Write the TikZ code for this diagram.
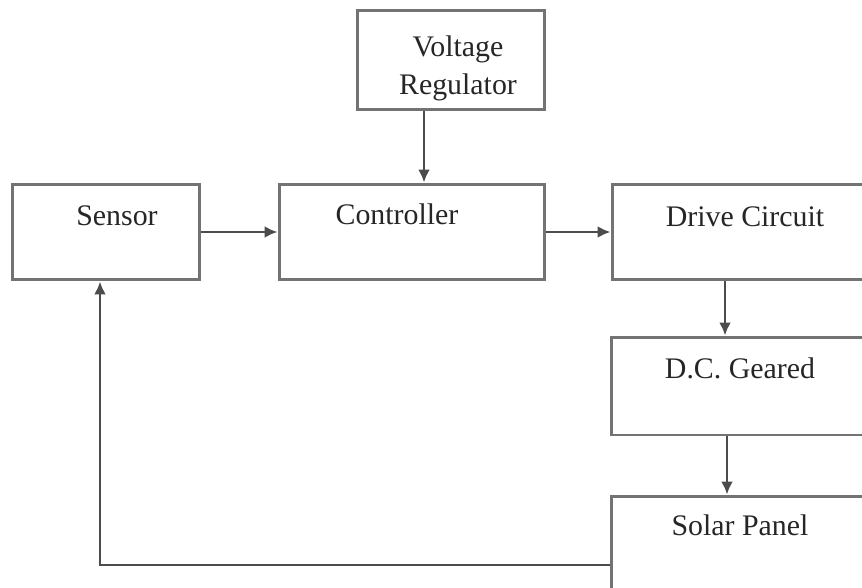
\documentclass[tikz,border=0pt]{standalone}
\usepackage{fontspec}
\setmainfont{Liberation Serif}
\usetikzlibrary{arrows.meta}

\begin{document}
\begin{tikzpicture}[
    x=0.02cm, y=-0.02cm,
    block/.style={
        draw=black!55,
        line width=1.7pt,
        rectangle,
        inner sep=0pt
    },
    txt/.style={
        anchor=center,
        text=black!85,
        font=\fontsize{17}{21.5}\selectfont,
        align=center
    },
    link/.style={
        draw=black!70,
        line width=1.5pt,
        -{Latex[length=0.26cm,width=0.24cm]}
    }
]

\useasboundingbox (0,0) rectangle (862,588);
\clip (0,0) rectangle (862,588);

\node[block, minimum width=3.76cm, minimum height=2cm,
      label={[txt, yshift=-1.19cm, xshift=0.14cm]north:Voltage\\Regulator}]
      (volt) at (451,60) {};
\node[block, minimum width=3.76cm, minimum height=1.92cm,
      label={[txt, yshift=-0.66cm, xshift=0.22cm]north:Sensor}]
      (sensor) at (106,232) {};
\node[block, minimum width=5.32cm, minimum height=1.92cm,
      label={[txt, yshift=-0.64cm, xshift=-0.3cm]north:Controller}]
      (ctrl) at (412,232) {};
\node[block, minimum width=5.8cm, minimum height=1.92cm,
      label={[txt, yshift=-0.68cm, xshift=-0.24cm]north:Drive Circuit}]
      (drive) at (757,232) {};
\node[block, minimum width=5.8cm, minimum height=1.96cm,
      label={[txt, yshift=-0.66cm, xshift=-0.32cm]north:D.C. Geared}]
      (motor) at (756,386) {};
\node[block, minimum width=5.8cm, minimum height=1.96cm,
      label={[txt, yshift=-0.62cm, xshift=-0.32cm]north:Solar Panel}]
      (panel) at (756,545) {};

\draw[link] ([xshift=-0.54cm]volt.south) -- ([xshift=-0.54cm]volt.south |- ctrl.north);
\draw[link] (sensor) -- (ctrl);
\draw[link] (ctrl) -- (drive);
\draw[link] ([xshift=-0.64cm]drive.south) -- ([xshift=-0.64cm]drive.south |- motor.north);
\draw[link] ([xshift=-0.58cm]motor.south) -- ([xshift=-0.58cm]motor.south |- panel.north);
\draw[link] ([yshift=-0.4cm]panel.west) -| ([xshift=-0.12cm]sensor.south);

\end{tikzpicture}
\end{document}
